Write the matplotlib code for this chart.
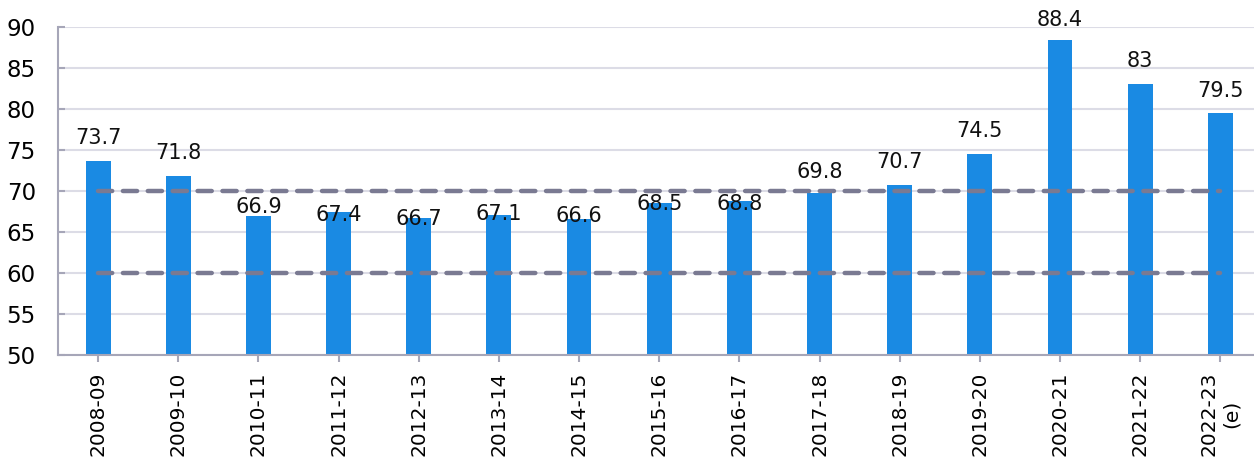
import matplotlib.pyplot as plt

years = ['2008-09', '2009-10', '2010-11', '2011-12', '2012-13', '2013-14', '2014-15',
         '2015-16', '2016-17', '2017-18', '2018-19', '2019-20', '2020-21', '2021-22',
         '2022-23\n(e)']
values = [73.7, 71.8, 66.9, 67.4, 66.7, 67.1, 66.6, 68.5, 68.8, 69.8, 70.7, 74.5, 88.4, 83, 79.5]
band = [60, 70]

# label baseline offset from bar top, in pixels (labels near the 70 line are pushed down)
label_px = [17, 17, 3, -9, -7, -5, -3, -7, -9, 15, 17, 17, 14, 17, 16]

fig = plt.figure(figsize=(12.54, 4.57), dpi=100)
ax = fig.add_axes([58 / 1254, 1 - 355 / 457, 1 - 58 / 1254, (355 - 27) / 457])

x = range(len(years))
ax.bar(x, values, width=0.31, color='#1a8ae3', zorder=2)

for lvl in band:
  ax.plot([0, len(years) - 1], [lvl, lvl], color='#7a7a92', linewidth=3.2,
          dashes=(3.2, 2.4), dash_capstyle='round', zorder=3)

for i, v in enumerate(values):
  txt = f'{v:g}'
  ax.annotate(txt, (i, v), xytext=(0, label_px[i] * 0.72), textcoords='offset points',
              ha='center', va='baseline', fontsize=15, color='#111111', zorder=4)

ax.set_ylim(50, 90)
ax.set_yticks(range(50, 91, 5))
ax.set_xlim(-0.5, 14.42)
ax.set_xticks(list(x))
ax.set_xticklabels(years, rotation=90, fontsize=14.5, multialignment='center')

ax.grid(axis='y', color='#dcdce6', linewidth=1.5, zorder=0)
ax.set_axisbelow(True)
for s in ['top', 'right']:
  ax.spines[s].set_visible(False)
for s in ['left', 'bottom']:
  ax.spines[s].set_color('#a6a6b8')
  ax.spines[s].set_linewidth(1.5)

ax.tick_params(axis='y', direction='in', length=5, width=1.5, color='#a6a6b8',
               labelsize=16.5, pad=16)
ax.tick_params(axis='x', direction='out', length=5, width=1.5, color='#a6a6b8', pad=7)

fig.savefig('out.png', dpi=100)
